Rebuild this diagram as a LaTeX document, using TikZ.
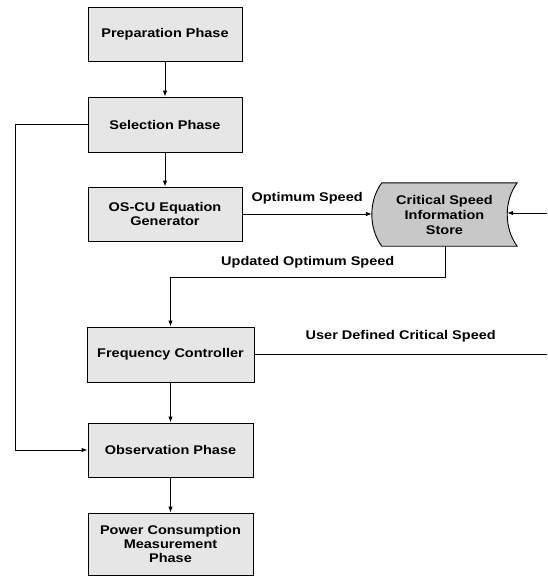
\documentclass[tikz,border=0pt]{standalone}
\usepackage{fontspec}
\setmainfont{Liberation Sans}[FakeStretch=1.15]
\usetikzlibrary{arrows.meta,calc}
\definecolor{boxfill}{RGB}{230,230,230}
\definecolor{storefill}{RGB}{200,200,200}
\begin{document}
\begin{tikzpicture}[x=1pt,y=-1pt,
  phasebox/.style={draw=black,line width=0.9pt,fill=boxfill,align=center,inner sep=0pt,
     font=\fontsize{12.6}{14}\selectfont\bfseries},
  arr/.style={line width=0.9pt,-{Latex[length=6pt,width=4.5pt]}},
  ln/.style={line width=0.9pt},
  lbl/.style={font=\fontsize{12.6}{14}\selectfont\bfseries,inner sep=0pt}]
\useasboundingbox (0,0) rectangle (547,576);
\node[phasebox,minimum width=154,minimum height=54] (prep) at (165,34) {Preparation Phase};
\node[phasebox,minimum width=154,minimum height=55] (sel) at (165,124.5) {Selection Phase};
\node[phasebox,minimum width=154,minimum height=54] (oscu) at (165,214) {OS-CU Equation\\Generator};
\node[phasebox,minimum width=167,minimum height=55] (freq) at (170.5,354.5) {Frequency Controller};
\node[phasebox,minimum width=165,minimum height=54] (obs) at (170.5,450) {Observation Phase};
\node[phasebox,minimum width=165,minimum height=62] (pow) at (170.5,544) {Power Consumption\\Measurement\\Phase};
% store node (shape drawn separately)
\node[align=center,inner sep=0pt,minimum width=145,minimum height=63] (store) at (444.5,214.5) {};
\draw[line width=0.9pt,fill=storefill]
  ([xshift=10]store.north west) -- (store.north east)
  .. controls ([xshift=-13.3,yshift=14]store.east) and ([xshift=-13.3,yshift=-14]store.east) .. (store.south east)
  -- ([xshift=10]store.south west)
  .. controls ([xshift=-3.3,yshift=-14]store.west) and ([xshift=-3.3,yshift=14]store.west) .. ([xshift=10]store.north west) -- cycle;
\node[align=center,inner sep=0pt,font=\fontsize{12.6}{15}\selectfont\bfseries] (storetxt) at (store) {Critical Speed\\Information\\Store};
\coordinate (ext1) at (547,213);
\coordinate (ext2) at (547,354.5);
\coordinate (leftx) at (15,0);
\coordinate (updy) at (0,277);
% connectors
\draw[arr] (prep) -- (sel);
\draw[arr] (sel) -- (oscu);
\draw[arr] (sel.west) -| (leftx |- obs.west) -- (obs.west);
\draw[arr] (oscu.east) -- node[lbl,above=9pt] {Optimum Speed} (oscu.east -| store.west);
\draw[arr] (ext1) -- ([xshift=-10]store.east |- ext1);
\draw[ln] ([xshift=0.5]store.south) -- ([xshift=0.5]store.south |- updy) -- node[lbl,above=8pt] {Updated Optimum Speed} (freq.north |- updy);
\draw[arr] (freq.north |- updy) -- (freq.north);
\draw[ln] (freq.east) -- node[lbl,above=12pt] {User Defined Critical Speed} (ext2);
\draw[arr] (freq) -- (obs);
\draw[arr] (obs) -- (pow);
\end{tikzpicture}
\end{document}
